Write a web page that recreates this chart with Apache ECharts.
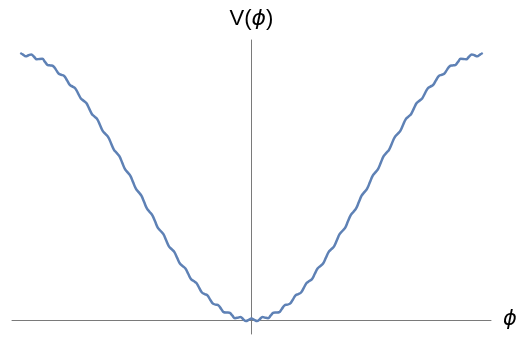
<!DOCTYPE html>
<html><head><meta charset="utf-8">
<script src="https://cdn.jsdelivr.net/npm/echarts@6/dist/echarts.min.js"></script>
<style>html,body{margin:0;padding:0;background:#fff}#c{width:526px;height:339px}</style>
</head><body><div id="c"></div>
<script>
const phi = [
  -21, -20.75, -20.5, -20.25, -20, -19.75, -19.5, -19.25, -19, -18.75, -18.5, -18.25,
  -18, -17.75, -17.5, -17.25, -17, -16.75, -16.5, -16.25, -16, -15.75, -15.5, -15.25,
  -15, -14.75, -14.5, -14.25, -14, -13.75, -13.5, -13.25, -13, -12.75, -12.5, -12.25,
  -12, -11.75, -11.5, -11.25, -11, -10.75, -10.5, -10.25, -10, -9.75, -9.5, -9.25,
  -9, -8.75, -8.5, -8.25, -8, -7.75, -7.5, -7.25, -7, -6.75, -6.5, -6.25,
  -6, -5.75, -5.5, -5.25, -5, -4.75, -4.5, -4.25, -4, -3.75, -3.5, -3.25,
  -3, -2.75, -2.5, -2.25, -2, -1.75, -1.5, -1.25, -1, -0.75, -0.5, -0.25,
  0,
  0.25, 0.5, 0.75, 1, 1.25, 1.5, 1.75, 2, 2.25, 2.5, 2.75, 3,
  3.25, 3.5, 3.75, 4, 4.25, 4.5, 4.75, 5, 5.25, 5.5, 5.75, 6,
  6.25, 6.5, 6.75, 7, 7.25, 7.5, 7.75, 8, 8.25, 8.5, 8.75, 9,
  9.25, 9.5, 9.75, 10, 10.25, 10.5, 10.75, 11, 11.25, 11.5, 11.75, 12,
  12.25, 12.5, 12.75, 13, 13.25, 13.5, 13.75, 14, 14.25, 14.5, 14.75, 15,
  15.25, 15.5, 15.75, 16, 16.25, 16.5, 16.75, 17, 17.25, 17.5, 17.75, 18,
  18.25, 18.5, 18.75, 19, 19.25, 19.5, 19.75, 20, 20.25, 20.5, 20.75, 21
];
const V = [
  2.011, 1.999, 1.986, 1.994, 2.000, 1.983, 1.964, 1.966, 1.967, 1.944, 1.920, 1.917,
  1.912, 1.884, 1.855, 1.847, 1.837, 1.805, 1.771, 1.758, 1.744, 1.707, 1.669, 1.652,
  1.634, 1.594, 1.552, 1.532, 1.511, 1.467, 1.423, 1.400, 1.376, 1.330, 1.284, 1.259,
  1.234, 1.186, 1.138, 1.112, 1.086, 1.037, 0.989, 0.963, 0.936, 0.888, 0.840, 0.814,
  0.788, 0.741, 0.694, 0.670, 0.646, 0.600, 0.555, 0.533, 0.511, 0.468, 0.426, 0.406,
  0.388, 0.348, 0.309, 0.293, 0.278, 0.242, 0.207, 0.195, 0.185, 0.153, 0.123, 0.116,
  0.110, 0.083, 0.058, 0.056, 0.055, 0.034, 0.014, 0.017, 0.022, 0.006, -0.008, 0.001,
  0.011,
  0.001, -0.008, 0.006, 0.022, 0.017, 0.014, 0.034, 0.055, 0.056, 0.058, 0.083, 0.110,
  0.116, 0.123, 0.153, 0.185, 0.195, 0.207, 0.242, 0.278, 0.293, 0.309, 0.348, 0.388,
  0.406, 0.426, 0.468, 0.511, 0.533, 0.555, 0.600, 0.646, 0.670, 0.694, 0.741, 0.788,
  0.814, 0.840, 0.888, 0.936, 0.963, 0.989, 1.037, 1.086, 1.112, 1.138, 1.186, 1.234,
  1.259, 1.284, 1.330, 1.376, 1.400, 1.423, 1.467, 1.511, 1.532, 1.552, 1.594, 1.634,
  1.652, 1.669, 1.707, 1.744, 1.758, 1.771, 1.805, 1.837, 1.847, 1.855, 1.884, 1.912,
  1.917, 1.920, 1.944, 1.967, 1.966, 1.964, 1.983, 2.000, 1.994, 1.986, 1.999, 2.011
];
const xName = 'ϕ';
const yName = '{a|V(}{b|ϕ}{a|)}';

const chart = echarts.init(document.getElementById('c'), null, {renderer: 'canvas'});
chart.setOption({
  animation: false,
  backgroundColor: '#ffffff',
  grid: {left: 12, right: 35, top: 40, bottom: 5, containLabel: false, outerBoundsMode: 'none'},
  xAxis: {
    type: 'value', min: -21.75, max: 21.75,
    axisLine: {onZero: true, lineStyle: {color: '#7a7a7a', width: 1}},
    axisTick: {show: false}, axisLabel: {show: false}, splitLine: {show: false},
    name: xName, nameLocation: 'end', nameGap: 12,
    nameTextStyle: {fontSize: 21, fontStyle: 'italic', fontFamily: 'DejaVu Sans', color: '#000',
      verticalAlign: 'middle', padding: [5, 0, 0, 0]}
  },
  yAxis: {
    type: 'value', min: -0.1055, max: 2.109,
    axisLine: {onZero: true, lineStyle: {color: '#7a7a7a', width: 1}},
    axisTick: {show: false}, axisLabel: {show: false}, splitLine: {show: false},
    name: yName, nameLocation: 'end', nameGap: 10,
    nameTextStyle: {
      color: '#000', fontSize: 22,
      rich: {
        a: {fontSize: 22, fontFamily: 'Liberation Sans', color: '#000'},
        b: {fontSize: 22, fontFamily: 'DejaVu Sans', fontStyle: 'italic', color: '#000'}
      }
    }
  },
  series: [{
    type: 'line',
    data: phi.map((p, i) => [p, V[i]]),
    showSymbol: false, symbol: 'none',
    smooth: 0.4,
    lineStyle: {color: '#5E81B5', width: 2.5},
    z: 3
  }]
});
</script>
</body></html>
